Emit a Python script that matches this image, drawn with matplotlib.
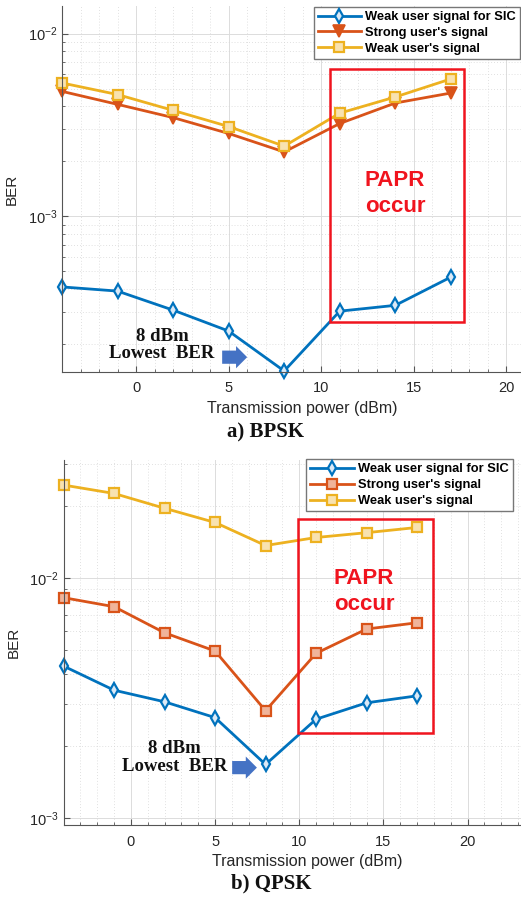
import numpy as np
import matplotlib
matplotlib.use('Agg')
from matplotlib import pyplot as plt
from matplotlib.patches import Rectangle
from matplotlib.ticker import MultipleLocator, LogLocator, NullFormatter

plt.rcParams['font.family'] = ['Liberation Sans', 'DejaVu Sans']
plt.rcParams['mathtext.default'] = 'regular'

# transmission power (dBm)
power = [-4, -1, 2, 5, 8, 11, 14, 17]

# BPSK
bpsk_sic = [4.10e-4, 3.89e-4, 3.06e-4, 2.35e-4, 1.42e-4, 3.02e-4, 3.25e-4, 4.64e-4]
bpsk_strong = [4.83e-3, 4.10e-3, 3.47e-3, 2.84e-3, 2.25e-3, 3.22e-3, 4.17e-3, 4.73e-3]
bpsk_weak = [5.37e-3, 4.64e-3, 3.80e-3, 3.10e-3, 2.42e-3, 3.67e-3, 4.50e-3, 5.65e-3]

# QPSK
qpsk_sic = [4.30e-3, 3.41e-3, 3.05e-3, 2.62e-3, 1.67e-3, 2.58e-3, 3.02e-3, 3.23e-3]
qpsk_strong = [8.30e-3, 7.61e-3, 5.92e-3, 4.97e-3, 2.80e-3, 4.86e-3, 6.14e-3, 6.52e-3]
qpsk_weak = [2.45e-2, 2.26e-2, 1.96e-2, 1.71e-2, 1.37e-2, 1.48e-2, 1.55e-2, 1.63e-2]

labels = ['Weak user signal for SIC', "Strong user's signal", "Weak user's signal"]
xticks = [0, 5, 10, 15, 20]

BLUE = '#0072BD'
ORANGE = '#D95319'
YELLOW = '#EDB120'
AXC = '#262626'


def setup_axes(ax, xlim, ylim):
    ax.set_yscale('log')
    ax.set_xlim(*xlim)
    ax.set_ylim(*ylim)
    ax.set_xticks(xticks)
    ax.xaxis.set_minor_locator(MultipleLocator(1))
    ax.yaxis.set_minor_locator(LogLocator(base=10, subs=np.arange(2, 10)))
    ax.yaxis.set_minor_formatter(NullFormatter())
    ax.grid(which='major', color='#dcdcdc', lw=0.7, ls='-')
    ax.grid(which='minor', color='#d6d6d6', lw=0.6, ls=(0, (1, 2.5)))
    ax.set_axisbelow(True)
    for s in ['top', 'right']:
        ax.spines[s].set_visible(False)
    for s in ['left', 'bottom']:
        ax.spines[s].set_color('#555555')
        ax.spines[s].set_linewidth(0.8)
    ax.tick_params(which='both', direction='in', colors='#555555', labelcolor=AXC,
                   labelsize=10.5)
    ax.tick_params(which='major', length=4)
    ax.tick_params(which='minor', length=2)
    ax.tick_params(axis='x', pad=7)
    ax.set_xlabel('Transmission power (dBm)', fontsize=11.5, color=AXC, labelpad=4)
    ax.set_ylabel('BER', fontsize=11, color=AXC, labelpad=6)


def papr_box(ax, x0, x1, y0, y1, ytext):
    ax.add_patch(Rectangle((x0, y0), x1 - x0, y1 - y0, fill=False,
                           ec='#F0141E', lw=1.8, zorder=5))
    ax.text((x0 + x1) / 2 - 0.1, ytext, 'PAPR\noccur', color='#F0141E', fontsize=16,
            fontweight='bold', ha='center', va='center', linespacing=1.3, zorder=6)


def lowest_note(ax, xt, yt, xa0, xa1, ya):
    ax.text(xt, yt, '8 dBm\nLowest  BER', family='Liberation Serif', fontweight='bold',
            fontsize=13.5, ha='center', va='center', linespacing=1.05, color='#111111')
    ax.annotate('', xy=(xa1, ya), xytext=(xa0, ya),
                arrowprops=dict(arrowstyle='simple,head_length=0.8,head_width=1.6,tail_width=0.95',
                                color='#4472C4', lw=0))


def add_legend(ax, anchor):
    ax.legend(loc='upper right', bbox_to_anchor=anchor, bbox_transform=fig.transFigure,
              borderaxespad=0, fancybox=False, edgecolor='#777777', framealpha=1,
              prop={'weight': 'bold', 'size': 9.3}, handlelength=3.4, handletextpad=0.3,
              borderpad=0.3, labelspacing=0.3)


fig = plt.figure(figsize=(5.21, 8.98), dpi=100)

# a) BPSK
ax1 = fig.add_axes([0.119, 0.586, 0.924, 0.407])
setup_axes(ax1, (-4, 22), (10 ** -3.852, 10 ** -1.85))
ax1.plot(power, bpsk_sic, '-d', color=BLUE, lw=2, ms=7, mfc='#dbe9f6', mew=1.6,
         label=labels[0], clip_on=False)
ax1.plot(power, bpsk_strong, '-v', color=ORANGE, lw=2, ms=8, mfc=ORANGE, mew=1.2,
         label=labels[1], clip_on=False)
ax1.plot(power, bpsk_weak, '-s', color=YELLOW, lw=2, ms=6.5, mfc='#f8e2b0', mew=1.6,
         label=labels[2], clip_on=False)
papr_box(ax1, 10.47, 17.71, 2.64e-4, 6.38e-3, 1.33e-3)
lowest_note(ax1, 1.4, 1.97e-4, 4.5, 6.15, 1.69e-4)
add_legend(ax1, (0.998, 0.992))
fig.text(0.51, 1 - 432 / 898, 'a) BPSK', family='Liberation Serif', fontweight='bold',
         fontsize=15, ha='center', va='center', color='#111111')

# b) QPSK
ax2 = fig.add_axes([0.122, 0.0813, 0.937, 0.4065])
setup_axes(ax2, (-4, 25), (10 ** -3.03, 10 ** -1.506))
ax2.plot(power, qpsk_sic, '-d', color=BLUE, lw=2, ms=7, mfc='#dbe9f6', mew=1.6,
         label=labels[0], clip_on=False)
ax2.plot(power, qpsk_strong, '-s', color=ORANGE, lw=2, ms=6.5, mfc='#f0b49a', mew=1.6,
         label=labels[1], clip_on=False)
ax2.plot(power, qpsk_weak, '-s', color=YELLOW, lw=2, ms=6.5, mfc='#f8e2b0', mew=1.6,
         label=labels[2], clip_on=False)
papr_box(ax2, 9.93, 17.95, 2.25e-3, 1.77e-2, 8.8e-3)
lowest_note(ax2, 2.61, 1.78e-3, 5.85, 7.65, 1.62e-3)
add_legend(ax2, (0.984, 0.4885))
fig.text(0.52, 1 - 883 / 898, 'b) QPSK', family='Liberation Serif', fontweight='bold',
         fontsize=15, ha='center', va='center', color='#111111')

fig.savefig('out.png', dpi=100)
